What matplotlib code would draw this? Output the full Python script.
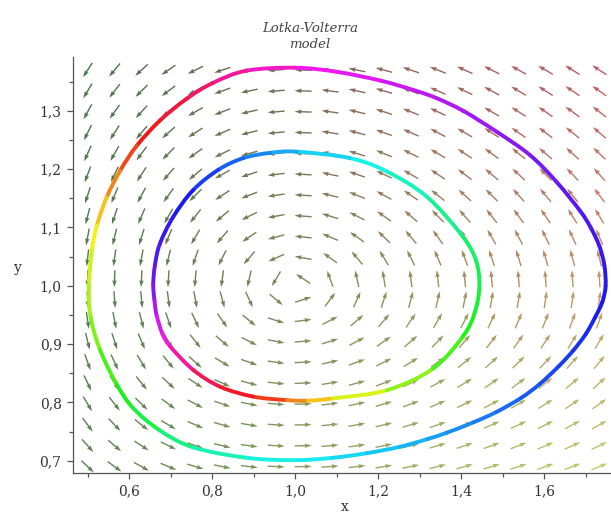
import numpy as np
import matplotlib.pyplot as plt
from matplotlib.path import Path
from matplotlib.patches import PathPatch
from matplotlib.colors import hsv_to_rgb
from matplotlib.ticker import MultipleLocator, FuncFormatter

# Lotka-Volterra model  x' = a*x - b*x*y ,  y' = -c*y + d*x*y
a, b, c, d = 1.0, 1.0, 0.3, 0.3

# grid of the direction field (20 x 20 arrows)
grid_x = np.linspace(0.5, 1.733, 20)
grid_y = np.linspace(0.69, 1.37, 20)

# outer orbit (time order) and hue in degrees
outer_x = [1.000, 1.090, 1.173, 1.253, 1.318, 1.365, 1.430, 1.486, 1.545, 1.590,
           1.635, 1.670, 1.700, 1.722, 1.740, 1.748, 1.745, 1.733, 1.712, 1.687,
           1.630, 1.566, 1.486, 1.405, 1.340, 1.284, 1.205, 1.100, 1.000, 0.883,
           0.802, 0.739, 0.675, 0.618, 0.578, 0.546, 0.522, 0.510, 0.503, 0.507,
           0.530, 0.570, 0.610, 0.674, 0.754, 0.884, 1.000]
outer_y = [0.701, 0.705, 0.713, 0.724, 0.737, 0.748, 0.766, 0.784, 0.808, 0.832,
           0.862, 0.889, 0.917, 0.945, 0.972, 1.000, 1.035, 1.068, 1.100, 1.128,
           1.178, 1.224, 1.264, 1.300, 1.322, 1.336, 1.352, 1.367, 1.374, 1.369,
           1.348, 1.321, 1.284, 1.240, 1.197, 1.152, 1.103, 1.060, 1.000, 0.947,
           0.890, 0.831, 0.790, 0.752, 0.723, 0.705, 0.701]
outer_hue = [180, 185, 190, 195, 200, 205, 210, 215, 220, 225,
             228, 232, 235, 238, 240, 243, 246, 250, 253, 256,
             262, 268, 274, 280, 284, 288, 292, 298, 305, 318,
             332, 345, 355, 365, 380, 400, 415, 425, 435, 445,
             460, 475, 485, 500, 515, 530, 540]

# inner orbit
inner_x = [0.899, 0.980, 1.030, 1.092, 1.221, 1.332, 1.405, 1.433, 1.444, 1.435,
           1.400, 1.317, 1.221, 1.132, 1.004, 0.940, 0.875, 0.815, 0.754, 0.706,
           0.674, 0.662, 0.658, 0.661, 0.666, 0.680, 0.699, 0.754, 0.819, 0.899]
inner_y = [0.810, 0.804, 0.803, 0.807, 0.821, 0.858, 0.914, 0.955, 1.000, 1.045,
           1.088, 1.153, 1.196, 1.219, 1.230, 1.228, 1.219, 1.199, 1.164, 1.118,
           1.072, 1.035, 1.002, 0.975, 0.950, 0.918, 0.896, 0.856, 0.827, 0.810]
inner_hue = [0, 20, 40, 55, 78, 98, 115, 124, 132, 138,
             145, 160, 172, 182, 195, 205, 215, 225, 235, 245,
             252, 258, 265, 275, 285, 298, 310, 335, 350, 360]

fig = plt.figure(figsize=(6.11, 5.14), dpi=100)
ax = fig.add_axes([0.119, 0.0798, 0.881, 0.810])
ax.set_xlim(0.464, 1.761)
ax.set_ylim(0.679, 1.393)

# pixels per data unit, so every arrow has the same length on screen
sx = ax.bbox.width / (1.761 - 0.464)
sy = ax.bbox.height / (1.393 - 0.679)

X, Y = np.meshgrid(grid_x, grid_y)
U = a * X - b * X * Y
V = -c * Y + d * X * Y
pu = U * sx
pv = V * sy
n = np.hypot(pu, pv)
n[n == 0] = 1

# arrow colours: blend of four corner colours
fx = (X - grid_x[0]) / (grid_x[-1] - grid_x[0])
fy = (Y - grid_y[0]) / (grid_y[-1] - grid_y[0])
bl = np.array([0.26, 0.42, 0.22])
br = np.array([0.72, 0.76, 0.34])
tl = np.array([0.16, 0.36, 0.18])
tr = np.array([0.70, 0.25, 0.30])
cols = ((1 - fx)[..., None] * (1 - fy)[..., None] * bl
        + fx[..., None] * (1 - fy)[..., None] * br
        + (1 - fx)[..., None] * fy[..., None] * tl
        + fx[..., None] * fy[..., None] * tr).reshape(-1, 3)

ax.quiver(X, Y, pu / n, pv / n, color=cols, angles='uv', pivot='middle',
          units='dots', scale_units='dots', scale=1 / 17.0,
          width=1.4, headwidth=3.2, headlength=5, headaxislength=4.5,
          alpha=0.85, zorder=2)


def orbit(xs, ys, hues):
    # closed curve drawn as smooth Bezier pieces through the read points
    P = np.column_stack([xs, ys])[:-1]
    N = len(P)
    for i in range(N):
        p0, p1, p2, p3 = P[i - 1], P[i], P[(i + 1) % N], P[(i + 2) % N]
        c1 = p1 + (p2 - p0) / 6
        c2 = p2 - (p3 - p1) / 6
        path = Path([p1, c1, c2, p2],
                    [Path.MOVETO, Path.CURVE4, Path.CURVE4, Path.CURVE4])
        h = ((hues[i] + hues[i + 1]) / 2 % 360) / 360
        col = hsv_to_rgb([h, 0.9, 0.95])
        ax.add_patch(PathPatch(path, fill=False, edgecolor=col, lw=2.8,
                               capstyle='round', joinstyle='round', zorder=3))


orbit(outer_x, outer_y, outer_hue)
orbit(inner_x, inner_y, inner_hue)

# axes in the Maple style
for s in ['top', 'right']:
    ax.spines[s].set_visible(False)
for s in ['left', 'bottom']:
    ax.spines[s].set_color('#555555')
    ax.spines[s].set_linewidth(0.9)

comma = FuncFormatter(lambda v, p: f"{v:.1f}".replace('.', ','))
ax.xaxis.set_major_locator(MultipleLocator(0.2))
ax.xaxis.set_minor_locator(MultipleLocator(0.1))
ax.yaxis.set_major_locator(MultipleLocator(0.1))
ax.yaxis.set_minor_locator(MultipleLocator(0.05))
ax.xaxis.set_major_formatter(comma)
ax.yaxis.set_major_formatter(comma)
ax.tick_params(which='both', direction='out', color='#555555', width=0.9,
               labelcolor='#333333', labelsize=10, labelfontfamily='DejaVu Serif')
ax.tick_params(which='major', length=4, pad=4)
ax.tick_params(which='minor', length=3)

fig.text(345 / 611, 1 - 507 / 514, 'x', ha='center', va='center',
         family='DejaVu Serif', fontsize=10, color='#333333')
fig.text(18 / 611, 1 - 268 / 514, 'y', ha='center', va='center',
         family='DejaVu Serif', fontsize=10, color='#333333')

fig.text(310 / 611, 1 - 28 / 514, 'Lotka-Volterra', ha='center', va='center',
         family='DejaVu Serif', style='italic', fontsize=9.5, color='#444444')
fig.text(310 / 611, 1 - 45 / 514, 'model', ha='center', va='center',
         family='DejaVu Serif', style='italic', fontsize=9.5, color='#444444')

fig.savefig('out.png', dpi=100)
